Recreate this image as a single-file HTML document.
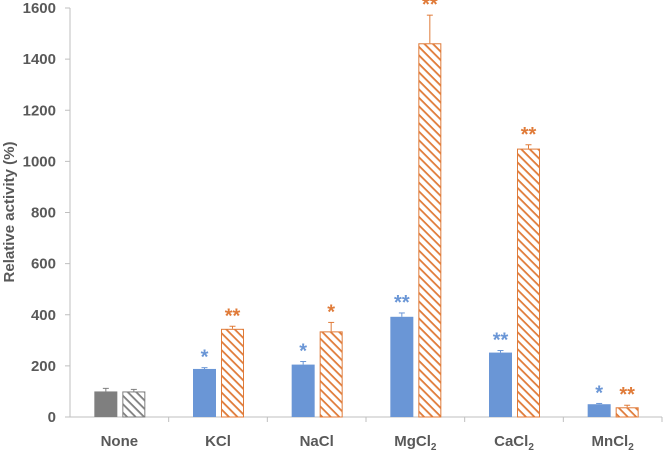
<!DOCTYPE html>
<html><head><meta charset="utf-8"><style>
body{margin:0;background:#fff;}
svg text{font-family:"Liberation Sans",sans-serif;font-weight:bold;fill:#595959;}
</style></head><body>
<svg width="664" height="450">
<defs>
<pattern id="hO" patternUnits="userSpaceOnUse" width="6" height="6" patternTransform="rotate(45)">
<rect width="6" height="6" fill="#fff"/><rect width="6" height="1.8" fill="#e07b39"/></pattern>
<pattern id="hG" patternUnits="userSpaceOnUse" width="6" height="6" patternTransform="rotate(45)">
<rect width="6" height="6" fill="#fff"/><rect width="6" height="1.8" fill="#7f7f7f"/></pattern>
</defs>
<g id="g"></g>
</svg>
<script>
const categories=["None","KCl","NaCl","MgCl2","CaCl2","MnCl2"];
const solidVals=[100,188,205,392,252,50];
const solidErr=[12,5,12,15,8,3];
const hatchVals=[100,345,335,1462,1050,38];
const hatchErr=[8,10,35,110,15,8];
const solidSig=["","*","*","**","**","*"];
const hatchSig=["","**","*","**","**","**"];
const yTicks=[0,200,400,600,800,1000,1200,1400,1600];
const NS="http://www.w3.org/2000/svg";
const g=document.getElementById('g');
const x0=70,x1=662,y0=417,yTop=8,ymax=1600;
const cw=(x1-x0)/categories.length;
const y=v=>y0-(v/ymax)*(y0-yTop);
const cx=i=>x0+cw*(i+0.5);
function mk(t,a){const e=document.createElementNS(NS,t);for(const k in a)e.setAttribute(k,a[k]);g.appendChild(e);return e;}
let ax=mk('line',{x1:x0,y1:yTop,x2:x0,y2:y0,stroke:'#bfbfbf','stroke-width':1});


let xa=mk('line',{x1:x0-5,y1:y0,x2:x1,y2:y0,stroke:'#bfbfbf','stroke-width':1});


yTicks.forEach(v=>{
 const t=mk('line',{x1:x0-5,y1:y(v),x2:x0,y2:y(v),stroke:'#bfbfbf'});
 
 
 const l=mk('text',{x:x0-14,y:y(v)+5,'text-anchor':'end','font-size':15});
 l.textContent=v;
 
 
});
for(let i=1;i<=categories.length;i++){
 const t=mk('line',{x1:x0+cw*i,y1:y0,x2:x0+cw*i,y2:y0+5,stroke:'#bfbfbf'});
 
 
}
const tt=mk('text',{x:0,y:0,'text-anchor':'middle','font-size':15,transform:'translate(14,212) rotate(-90)'});
tt.textContent='Relative activity (%)';


const bw=23;
categories.forEach((c,i)=>{
 const c0=cx(i);
 const sCol=i===0?'#7f7f7f':'#6a96d6', hCol=i===0?'#7f7f7f':'#e07b39';
 const sx=c0-25, hx=c0+3;
 [[sx,solidVals[i],solidErr[i],sCol],[hx,hatchVals[i],hatchErr[i],hCol]].forEach(([bx,v,e,col])=>{
  const m=bx+bw/2;
  const el=mk('line',{x1:m,y1:y(v),x2:m,y2:y(v+e),stroke:col,'stroke-width':1});
  
  
  const cap=mk('line',{x1:m-3,y1:y(v+e),x2:m+3,y2:y(v+e),stroke:col,'stroke-width':1});
  
  
 });
 const s=mk('rect',{x:sx,y:y(solidVals[i]),width:bw,height:y0-y(solidVals[i]),fill:sCol});
 
 
 const h=mk('rect',{x:hx+0.5,y:y(hatchVals[i])+0.5,width:bw-1,height:y0-y(hatchVals[i])-0.5,fill:i===0?'url(#hG)':'url(#hO)',stroke:hCol,'stroke-width':1});
 
 
 if(solidSig[i]){
  const t=mk('text',{x:sx+bw/2,y:y(solidVals[i]+solidErr[i])-4,'text-anchor':'middle','font-size':20,style:'fill:#6a96d6'});
  t.textContent=solidSig[i];
  
  
 }
 if(hatchSig[i]){
  const t=mk('text',{x:hx+bw/2,y:y(hatchVals[i]+hatchErr[i])-4,'text-anchor':'middle','font-size':20,style:'fill:#e07b39'});
  t.textContent=hatchSig[i];
  
  
 }
 const l=mk('text',{x:c0,y:446,'text-anchor':'middle','font-size':15});
 const m=c.match(/^(.*?)(\d)$/);
 if(m){
  l.textContent=m[1];
  const sub=document.createElementNS(NS,'tspan');
  sub.setAttribute('dy','4');sub.setAttribute('font-size','10');
  sub.textContent=m[2];l.appendChild(sub);
 } else l.textContent=c;
 
 
});
</script>
</body></html>
